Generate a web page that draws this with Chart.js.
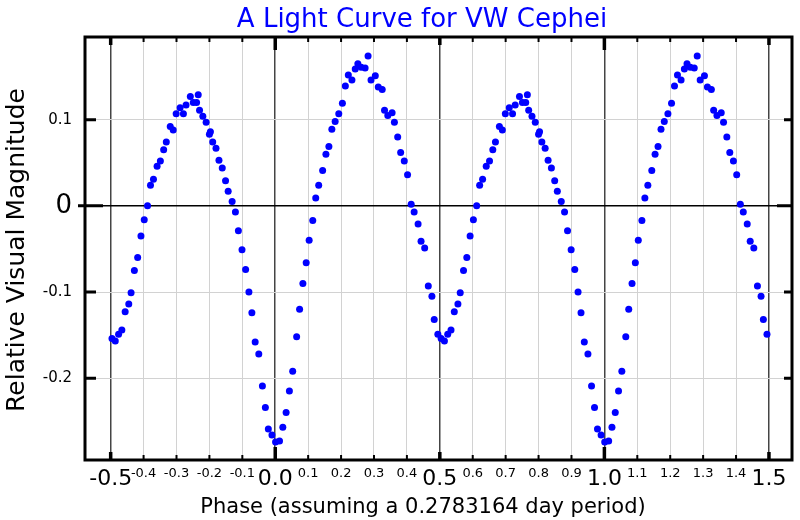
<!DOCTYPE html>
<html>
<head>
<meta charset="utf-8">
<script src="https://cdn.jsdelivr.net/npm/chart.js@4.4.0/dist/chart.umd.min.js"></script>
<style>
  html, body { margin: 0; padding: 0; background: #fff; }
</style>
</head>
<body>
<canvas id="myChart" width="800" height="520"></canvas>
<script>
// one cycle of the light curve (phase 0..1)
const phaseArr = [
  0.001, 0.013, 0.023, 0.033, 0.043, 0.053, 0.065, 0.074, 0.084, 0.094,
  0.103, 0.114, 0.123, 0.132, 0.144, 0.154, 0.163, 0.172, 0.182, 0.193,
  0.204, 0.213, 0.222, 0.233, 0.243, 0.251, 0.261, 0.273, 0.282, 0.291,
  0.304, 0.313, 0.325, 0.332, 0.342, 0.355, 0.362, 0.372, 0.381, 0.392,
  0.402, 0.413, 0.422, 0.434, 0.443, 0.454, 0.465, 0.476, 0.483, 0.494,
  0.504, 0.514, 0.524, 0.534, 0.544, 0.555, 0.562, 0.572, 0.582, 0.592,
  0.602, 0.612, 0.621, 0.630, 0.641, 0.651, 0.661, 0.669, 0.681, 0.690,
  0.699, 0.711, 0.721, 0.729, 0.742, 0.751, 0.761, 0.766, 0.770, 0.780,
  0.790, 0.800, 0.803, 0.810, 0.820, 0.829, 0.839, 0.849, 0.857, 0.869,
  0.879, 0.888, 0.899, 0.910, 0.920, 0.929, 0.939, 0.950, 0.961, 0.970,
  0.979, 0.990
];
const magArr = [
  -0.274, -0.273, -0.257, -0.240, -0.215, -0.192, -0.152, -0.120, -0.090, -0.066,
  -0.040, -0.017, 0.009, 0.024, 0.041, 0.060, 0.069, 0.089, 0.098, 0.107,
  0.119, 0.139, 0.152, 0.146, 0.159, 0.165, 0.161, 0.160, 0.174, 0.146,
  0.151, 0.138, 0.135, 0.111, 0.105, 0.108, 0.097, 0.080, 0.062, 0.052,
  0.036, 0.002, -0.007, -0.021, -0.041, -0.049, -0.093, -0.105, -0.132, -0.149,
  -0.154, -0.157, -0.149, -0.144, -0.123, -0.114, -0.101, -0.075, -0.060, -0.035,
  -0.016, 0.000, 0.024, 0.031, 0.046, 0.052, 0.065, 0.074, 0.092, 0.088,
  0.107, 0.114, 0.107, 0.117, 0.127, 0.120, 0.120, 0.129, 0.111, 0.104,
  0.097, 0.083, 0.086, 0.074, 0.067, 0.053, 0.044, 0.029, 0.017, 0.005,
  -0.007, -0.029, -0.051, -0.074, -0.100, -0.124, -0.158, -0.172, -0.209, -0.234,
  -0.259, -0.266
];

const xTicks = [-0.5, -0.4, -0.3, -0.2, -0.1, 0, 0.1, 0.2, 0.3, 0.4, 0.5,
  0.6, 0.7, 0.8, 0.9, 1, 1.1, 1.2, 1.3, 1.4, 1.5];
const xMajorTicks = [-0.5, 0, 0.5, 1, 1.5];
const yTicks = [-0.2, -0.1, 0, 0.1];

const titleText = "A Light Curve for VW Cephei";
const xTitle = "Phase (assuming a 0.2783164 day period)";
const yTitle = "Relative Visual Magnitude";

const FONT = "'DejaVu Sans', sans-serif";

// plot the cycle repeated over phase -0.5 .. 1.5
const points = [];
phaseArr.forEach((p, i) => {
  [-1, 0, 1].forEach((shift) => {
    const x = p + shift;
    if (x >= -0.5 && x <= 1.5) points.push({ x: x, y: magArr[i] });
  });
});

const isMajor = (v) => xMajorTicks.some((m) => Math.abs(m - v) < 1e-6);
const isWhole = (v) => Math.abs(v - Math.round(v)) < 1e-6;

const framePlugin = {
  id: "frame",
  afterDraw(chart) {
    const { ctx, chartArea: a, scales } = chart;
    const xs = scales.x, ys = scales.y;
    ctx.save();
    ctx.strokeStyle = "#000";
    ctx.lineCap = "butt";
    // x ticks, pointing inward, top and bottom
    xTicks.forEach((v) => {
      const px = xs.getPixelForValue(v);
      let len = 5, w = 2;
      if (isMajor(v)) { len = isWhole(v) ? 13 : 8; w = 3.5; }
      ctx.lineWidth = w;
      ctx.beginPath();
      ctx.moveTo(px, a.bottom); ctx.lineTo(px, a.bottom - len);
      ctx.moveTo(px, a.top); ctx.lineTo(px, a.top + len);
      ctx.stroke();
    });
    // y ticks
    yTicks.forEach((v) => {
      const py = ys.getPixelForValue(v);
      ctx.lineWidth = 3;
      ctx.beginPath();
      if (v === 0) {
        ctx.moveTo(a.left - 7, py); ctx.lineTo(a.left + 18, py);
        ctx.moveTo(a.right, py); ctx.lineTo(a.right - 15, py);
      } else {
        ctx.moveTo(a.left, py); ctx.lineTo(a.left + 11, py);
        ctx.moveTo(a.right, py); ctx.lineTo(a.right - 8, py);
      }
      ctx.stroke();
    });
    // frame
    ctx.lineWidth = 3;
    ctx.strokeRect(a.left, a.top, a.right - a.left, a.bottom - a.top);

    // titles
    ctx.fillStyle = "#0000ff";
    ctx.font = "26px " + FONT;
    ctx.textAlign = "center";
    ctx.textBaseline = "alphabetic";
    ctx.fillText(titleText, 422, 27);

    ctx.fillStyle = "#000";
    ctx.font = "21px " + FONT;
    ctx.fillText(xTitle, 423, 513);

    ctx.translate(17, 250);
    ctx.rotate(-Math.PI / 2);
    ctx.font = "25px " + FONT;
    ctx.textBaseline = "middle";
    ctx.fillText(yTitle, 0, 0);
    ctx.restore();
  },
};

const ctx = document.getElementById("myChart").getContext("2d");

const myChart = new Chart(ctx, {
  type: "scatter",
  data: {
    datasets: [
      {
        data: points,
        backgroundColor: "#0000ff",
        borderWidth: 0,
        pointRadius: 3.5,
        pointHoverRadius: 3.5,
      },
    ],
  },
  options: {
    responsive: false,
    animation: false,
    events: [],
    layout: { padding: { top: 37, right: 8, left: 0, bottom: 0 } },
    plugins: {
      legend: { display: false },
      title: { display: false },
      tooltip: { enabled: false },
    },
    scales: {
      x: {
        type: "linear",
        min: -0.578,
        max: 1.57,
        afterBuildTicks: (scale) => {
          scale.ticks = xTicks.map((v) => ({ value: v }));
        },
        afterFit: (scale) => {
          scale.height = 60;
        },
        border: { display: false },
        grid: {
          drawTicks: false,
          color: (c) => (isMajor(c.tick.value) ? "#444" : "#d2d2d2"),
          lineWidth: (c) => (isMajor(c.tick.value) ? 1.5 : 1),
        },
        ticks: {
          autoSkip: false,
          maxRotation: 0,
          padding: 6,
          color: "#000",
          font: (c) => ({ family: FONT, size: c.tick && isMajor(c.tick.value) ? 22 : 13 }),
          callback: (v) => v.toFixed(1),
        },
      },
      y: {
        type: "linear",
        min: -0.295,
        max: 0.196,
        afterBuildTicks: (scale) => {
          scale.ticks = yTicks.map((v) => ({ value: v }));
        },
        afterFit: (scale) => {
          scale.width = 85;
        },
        border: { display: false },
        grid: {
          drawTicks: false,
          color: (c) => (c.tick.value === 0 ? "#000" : "#d2d2d2"),
          lineWidth: (c) => (c.tick.value === 0 ? 1.5 : 1),
        },
        ticks: {
          autoSkip: false,
          padding: 13,
          color: "#000",
          font: (c) => ({ family: FONT, size: c.tick && c.tick.value === 0 ? 26 : 15 }),
          callback: (v) => (v === 0 ? "0" : v.toFixed(1)),
        },
      },
    },
  },
  plugins: [framePlugin],
});
</script>
</body>
</html>
